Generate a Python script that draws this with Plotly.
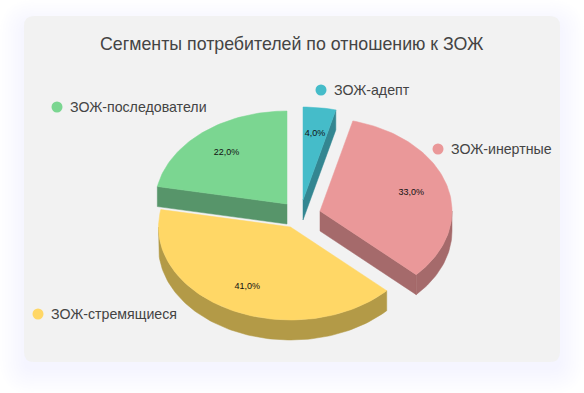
import math
import plotly.graph_objects as go

# --- data ---
categories = ["ЗОЖ-адепт", "ЗОЖ-инертные", "ЗОЖ-стремящиеся", "ЗОЖ-последователи"]
values = [4.0, 33.0, 41.0, 22.0]

# --- styling / layout constants ---
top_colors = ["#45BCC9", "#EA9899", "#FFD766", "#7BD691"]
side_colors = ["#338691", "#A56A6B", "#B39A47", "#57956A"]
apexes = [(303, 200), (320, 211), (290.5, 227), (287, 204)]
legend_pos = [(321, 90), (438, 149), (38, 314), (57, 107)]
RX, RY, DEPTH = 132, 93, 20
W, H = 584, 393
CARD = (24, 16, 560, 362)
draw_order = [3, 0, 1, 2]
FONT = "Liberation Sans"


def pt(apex, deg, f=1.0, dy=0):
    a = math.radians(deg)
    return apex[0] + f * RX * math.sin(a), apex[1] - f * RY * math.cos(a) + dy


def arc(apex, a0, a1, dy=0):
    n = max(2, int(abs(a1 - a0) / 1.5) + 1)
    return [pt(apex, a0 + (a1 - a0) * i / (n - 1), 1.0, dy) for i in range(n)]


def poly(points, color):
    xs = [p[0] for p in points] + [points[0][0]]
    ys = [p[1] for p in points] + [points[0][1]]
    return go.Scatter(x=xs, y=ys, mode="lines", fill="toself", fillcolor=color,
                      line=dict(color=color, width=0.5), hoverinfo="skip", showlegend=False)


def rounded(x0, y0, x1, y1, r):
    return (f"M{x0+r},{y0} L{x1-r},{y0} Q{x1},{y0} {x1},{y0+r} L{x1},{y1-r} Q{x1},{y1} {x1-r},{y1} "
            f"L{x0+r},{y1} Q{x0},{y1} {x0},{y1-r} L{x0},{y0+r} Q{x0},{y0} {x0+r},{y0} Z")


total = sum(values)
angles = []
acc = 0.0
for v in values:
    angles.append((acc, acc + v / total * 360))
    acc += v / total * 360

fig = go.Figure()
for i in draw_order:
    a0, a1 = angles[i]
    ap = apexes[i]
    # cut faces turned towards the viewer
    for ang, sign in ((a0, -1), (a1, 1)):
        if sign * math.sin(math.radians(ang)) > 1e-9:
            rim = pt(ap, ang)
            rim2 = pt(ap, ang, 1.0, DEPTH)
            fig.add_trace(poly([ap, rim, rim2, (ap[0], ap[1] + DEPTH)], side_colors[i]))
    # outer rim facing the viewer
    f0, f1 = max(a0, 90), min(a1, 270)
    if f1 > f0:
        fig.add_trace(poly(arc(ap, f0, f1) + arc(ap, f1, f0, DEPTH), side_colors[i]))
    # top face
    fig.add_trace(poly([ap] + arc(ap, a0, a1), top_colors[i]))

# value labels
lx, ly, lt = [], [], []
for i, v in enumerate(values):
    m = sum(angles[i]) / 2
    x, y = pt(apexes[i], m, 0.72)
    lx.append(x); ly.append(y); lt.append(f"{v:.1f}%".replace(".", ","))
fig.add_trace(go.Scatter(x=lx, y=ly, text=lt, mode="text", showlegend=False, hoverinfo="skip",
                         textposition="middle center",
                         textfont=dict(family=FONT, size=9, color="#111111")))

# legend markers
fig.add_trace(go.Scatter(x=[p[0] for p in legend_pos], y=[p[1] for p in legend_pos], mode="markers",
                         marker=dict(size=11, color=top_colors, line=dict(width=0)),
                         showlegend=False, hoverinfo="skip"))

annotations = [dict(x=p[0] + 10.5, y=p[1] - 0.5, text=c, xref="x", yref="y", xanchor="left", yanchor="middle",
                    showarrow=False, font=dict(family=FONT, size=14.2, color="#444444"))
               for p, c in zip(legend_pos, categories)]
annotations.append(dict(x=292, y=43.5, text="Сегменты потребителей по отношению к ЗОЖ", xref="x", yref="y",
                        xanchor="center", yanchor="middle", showarrow=False,
                        font=dict(family=FONT, size=17.8, color="#444444")))

shapes = []
for k in range(10):
    g = 24 - k * 2.6
    shapes.append(dict(type="path", path=rounded(CARD[0] - g, CARD[1] - g + 8, CARD[2] + g, CARD[3] + g + 8, 10 + g),
                       fillcolor="rgba(150,160,220,0.012)", line=dict(width=0), layer="below"))
shapes.append(dict(type="path", path=rounded(*CARD, 10), fillcolor="#F2F2F2", line=dict(width=0), layer="below"))

fig.update_layout(width=W, height=H, margin=dict(l=0, r=0, t=0, b=0), autosize=False,
                  paper_bgcolor="white", plot_bgcolor="white", showlegend=False,
                  shapes=shapes, annotations=annotations,
                  xaxis=dict(range=[0, W], visible=False, fixedrange=True),
                  yaxis=dict(range=[H, 0], visible=False, fixedrange=True))
fig.write_html("out.html", config={"displayModeBar": False},
               post_script="document.body.style.margin='0';document.body.style.overflow='hidden';")
